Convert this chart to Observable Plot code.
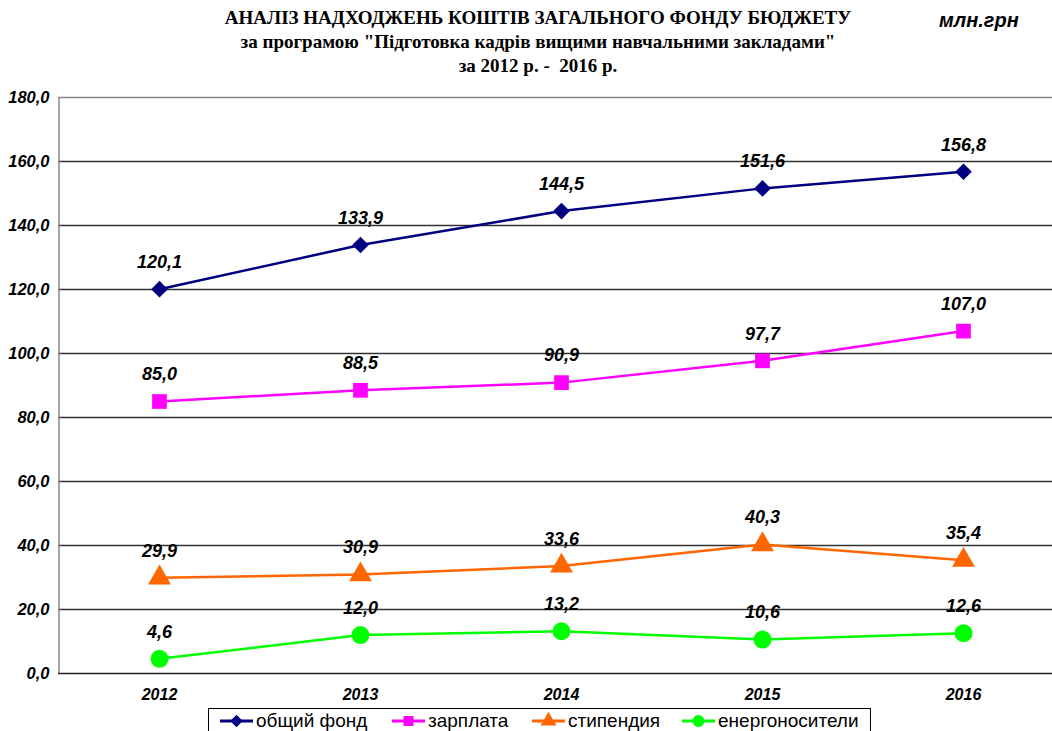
<!DOCTYPE html>
<html>
<head>
<meta charset="utf-8">
<script src="https://cdn.jsdelivr.net/npm/d3@7"></script>
<script src="https://cdn.jsdelivr.net/npm/@observablehq/plot@0.6"></script>
<style>
  html, body { margin: 0; padding: 0; background: #fff; }
  #wrap { position: relative; width: 1052px; height: 731px; overflow: hidden; }
  #title { position: absolute; left: 0; width: 1076px; top: 6px; text-align: center;
    font-family: "Liberation Serif", "Times New Roman", serif; font-weight: bold; font-size: 19px; line-height: 24px; color: #000; }
  #unit { position: absolute; left: 939px; top: 9px; font-family: "Liberation Sans", Arial, sans-serif;
    font-weight: bold; font-style: italic; font-size: 20px; color: #000; }
  #legend { position: absolute; left: 208px; top: 708px; width: 663px; height: 34px; border: 1.5px solid #000;
    box-sizing: border-box; font-family: "Liberation Sans", Arial, sans-serif; font-size: 19px; color: #000; }
  .item { position: absolute; top: 0px; display: flex; align-items: center; height: 24px; }
  .item svg { margin-right: 3px; }
  #chart { position: absolute; left: 0; top: 0; }
</style>
</head>
<body>
<div id="wrap">
  <div id="chart"></div>
  <div id="title">АНАЛІЗ НАДХОДЖЕНЬ КОШТІВ ЗАГАЛЬНОГО ФОНДУ БЮДЖЕТУ<br>за програмою "Підготовка кадрів вищими навчальними закладами"<br>за 2012 р. -&nbsp; 2016 р.</div>
  <div id="unit">млн.грн</div>
  <div id="legend"></div>
</div>
<script>
const years = ["2012", "2013", "2014", "2015", "2016"];
const seriesNames = ["общий фонд", "зарплата", "стипендия", "енергоносители"];
const obshchiyFond = [120.1, 133.9, 144.5, 151.6, 156.8];
const zarplata = [85.0, 88.5, 90.9, 97.7, 107.0];
const stypendiya = [29.9, 30.9, 33.6, 40.3, 35.4];
const energonositeli = [4.6, 12.0, 13.2, 10.6, 12.6];
const yTicks = [0, 20, 40, 60, 80, 100, 120, 140, 160, 180];

const colors = ["#000080", "#FF00FF", "#FF6600", "#00FF00"];
const symbols = ["diamond2", "square", "triangle", "circle"];
const radii = [7.5, 8.3, 8.5, 9];

const allValues = [obshchiyFond, zarplata, stypendiya, energonositeli];
const data = [];
allValues.forEach((vals, si) => {
  vals.forEach((v, i) => data.push({series: seriesNames[si], year: years[i], value: v}));
});

const fmt = v => d3.format(".1f")(v).replace(".", ",");

const seriesMarks = [];
seriesNames.forEach((name, si) => {
  const d = data.filter(r => r.series === name);
  seriesMarks.push(Plot.line(d, {x: "year", y: "value", stroke: colors[si], strokeWidth: 2.5}));
  seriesMarks.push(Plot.dot(d, {x: "year", y: "value", fill: colors[si], stroke: "none", symbol: () => symbols[si], r: radii[si]}));
  seriesMarks.push(Plot.text(d, {x: "year", y: "value", text: r => fmt(r.value), dy: -27,
    fontSize: 18, fontWeight: "bold", fontStyle: "italic", fill: "#000",
    fontFamily: "Liberation Sans, Arial, sans-serif"}));
});

const chart = Plot.plot({
  width: 1052,
  height: 731,
  marginTop: 97,
  marginBottom: 58,
  marginLeft: 58,
  marginRight: 0,
  style: {fontFamily: "Liberation Sans, Arial, sans-serif", background: "transparent"},
  x: {type: "point", domain: years, range: [158.5, 962.5], padding: 0, label: null},
  y: {domain: [0, 180], label: null},
  symbol: {type: "identity"},
  marks: [
    Plot.ruleY(yTicks.filter(t => t > 0 && t < 180), {stroke: "#333", strokeWidth: 1.3}),
    Plot.ruleY([180], {stroke: "#888", strokeWidth: 1.5}),
    Plot.ruleY([0], {stroke: "#222", strokeWidth: 1.5}),
    Plot.ruleX([years[0]], {dx: -100.5, y1: 0, y2: 180, stroke: "#888", strokeWidth: 1.5}),
    Plot.axisY({ticks: yTicks, tickFormat: fmt, tickSize: 0, tickPadding: 9,
      fontSize: 16.5, fontWeight: "bold", fontStyle: "italic", fill: "#000"}),
    Plot.axisX({tickSize: 0, tickPadding: 15, fontSize: 16, fontWeight: "bold", fontStyle: "italic", fill: "#000"}),
    ...seriesMarks
  ]
});
document.getElementById("chart").appendChild(chart);

// Legend
const legend = document.getElementById("legend");
const lefts = [10, 182, 322, 472];
const types = [d3.symbolDiamond2, d3.symbolSquare, d3.symbolTriangle, d3.symbolCircle];
const sizes = [100, 100, 110, 110];
seriesNames.forEach((name, si) => {
  const item = document.createElement("div");
  item.className = "item";
  item.style.left = lefts[si] + "px";
  const path = d3.symbol(types[si], sizes[si])();
  item.innerHTML = `<svg width="34" height="20"><line x1="1" x2="34" y1="10" y2="10" stroke="${colors[si]}" stroke-width="3"/><path transform="translate(17.5,10)" d="${path}" fill="${colors[si]}"/></svg><span>${name}</span>`;
  legend.appendChild(item);
});
</script>
</body>
</html>
